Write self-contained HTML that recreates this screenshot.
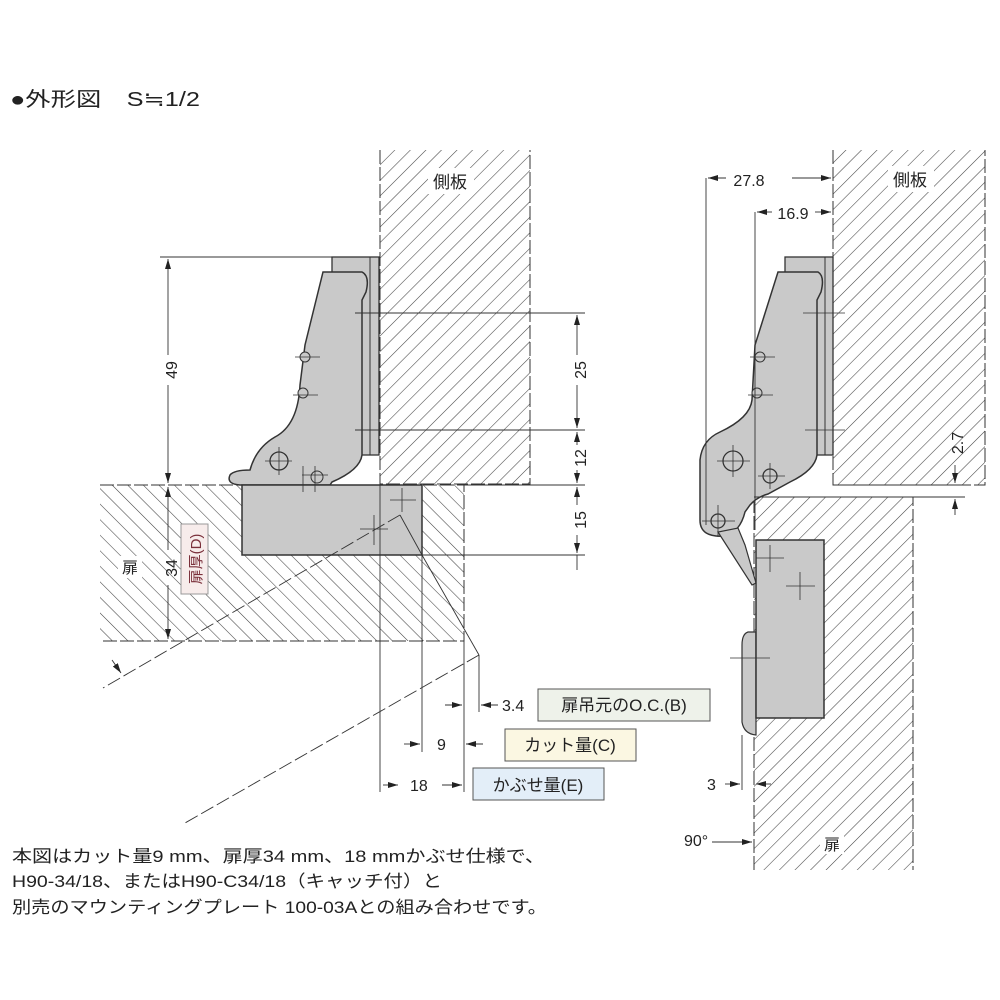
<!DOCTYPE html>
<html><head><meta charset="utf-8"><style>
html,body{margin:0;padding:0;background:#fff;}
svg{display:block;}
text{font-family:"Liberation Sans","Noto Sans CJK JP",sans-serif;fill:#222;}
</style></head><body>
<svg width="1000" height="1000" viewBox="0 0 1000 1000" xmlns="http://www.w3.org/2000/svg">
<defs>
<pattern id="hf" width="11" height="11" patternUnits="userSpaceOnUse" patternTransform="rotate(45)">
<line x1="0" y1="0" x2="0" y2="11" stroke="#444" stroke-width="1.1"/></pattern>
<pattern id="hb" width="11" height="11" patternUnits="userSpaceOnUse" patternTransform="rotate(-45)">
<line x1="0" y1="0" x2="0" y2="11" stroke="#444" stroke-width="1.1"/></pattern>
<marker id="a" markerWidth="10" markerHeight="6" refX="10" refY="3" orient="auto" markerUnits="userSpaceOnUse"><path d="M0,0 L10,3 L0,6z" fill="#222"/></marker>
</defs>

<text x="10" y="106" font-size="20" textLength="190" lengthAdjust="spacingAndGlyphs">●外形図　S≒1/2</text>

<!-- LEFT DRAWING -->
<rect x="380" y="150" width="150" height="334" fill="url(#hf)"/>
<path d="M380,150 V484 H530 V150" fill="none" stroke="#333" stroke-width="1" stroke-dasharray="14,3"/>
<rect x="100" y="485" width="364" height="156" fill="url(#hb)"/>
<path d="M100,485 H464 V641 H100" fill="none" stroke="#333" stroke-width="1" stroke-dasharray="14,3"/>
<rect x="428" y="168" width="46" height="26" fill="#fff"/>
<text x="433" y="188" font-size="17">側板</text>
<rect x="118" y="556" width="24" height="22" fill="#fff"/>
<text x="122" y="573" font-size="16">扉</text>

<!-- mount plate & arm -->
<rect x="332" y="257" width="47" height="198" fill="#c9c9c9" stroke="#333" stroke-width="1.3"/>
<line x1="370" y1="257" x2="370" y2="455" stroke="#333"/>
<path d="M323,272 L362,272 Q370,276 366,292 L362,300 L362,455 Q360,470 332,482 L330,485 L240,485 Q226,484 230,475 Q234,470 250,470 Q256,448 275,437 Q298,425 300,385 L305,345 Z" fill="#c9c9c9" stroke="#333" stroke-width="1.5"/>
<circle cx="279" cy="461" r="9" fill="#c9c9c9" stroke="#333" stroke-width="1.3"/>
<circle cx="317" cy="477" r="6" fill="#c9c9c9" stroke="#333"/>
<circle cx="305" cy="357" r="5" fill="#c9c9c9" stroke="#333"/>
<circle cx="303" cy="393" r="5" fill="#c9c9c9" stroke="#333"/>
<rect x="242" y="485" width="180" height="70" fill="#c9c9c9" stroke="#333" stroke-width="1.5"/>
<g stroke="#333" stroke-width="0.8">
<line x1="295" y1="357" x2="320" y2="357"/><line x1="293" y1="395" x2="318" y2="395"/>
<line x1="265" y1="461" x2="292" y2="461"/><line x1="279" y1="447" x2="279" y2="475"/>
<line x1="303" y1="466" x2="303" y2="492"/><line x1="315" y1="466" x2="315" y2="492"/><line x1="302" y1="475" x2="328" y2="475"/>
<line x1="390" y1="500" x2="416" y2="500"/><line x1="402" y1="488" x2="402" y2="512"/>
<line x1="360" y1="529" x2="388" y2="529"/><line x1="374" y1="515" x2="374" y2="545"/>
</g>

<!-- left dims -->
<g stroke="#333" stroke-width="0.9" fill="none">
<line x1="160" y1="257" x2="380" y2="257"/>
<line x1="355" y1="313" x2="585" y2="313"/>
<line x1="355" y1="430" x2="585" y2="430"/>
<line x1="464" y1="485" x2="585" y2="485"/>
<line x1="422" y1="555" x2="585" y2="555"/>
<line x1="168" y1="355" x2="168" y2="259" marker-end="url(#a)"/>
<line x1="168" y1="385" x2="168" y2="483" marker-end="url(#a)"/>
<line x1="168" y1="550" x2="168" y2="487" marker-end="url(#a)"/>
<line x1="168" y1="585" x2="168" y2="639" marker-end="url(#a)"/>
<line x1="577" y1="355" x2="577" y2="315" marker-end="url(#a)"/>
<line x1="577" y1="385" x2="577" y2="428" marker-end="url(#a)"/>
<line x1="577" y1="445" x2="577" y2="432" marker-end="url(#a)"/>
<line x1="577" y1="470" x2="577" y2="483" marker-end="url(#a)"/>
<line x1="577" y1="505" x2="577" y2="487" marker-end="url(#a)"/>
<line x1="577" y1="535" x2="577" y2="553" marker-end="url(#a)"/>
<line x1="577" y1="555" x2="577" y2="570"/>
<line x1="380" y1="485" x2="380" y2="792"/>
<line x1="422" y1="555" x2="422" y2="752"/>
<line x1="464" y1="641" x2="464" y2="792"/>
<line x1="479" y1="655" x2="479" y2="712"/>
<line x1="400" y1="515" x2="422" y2="555"/>
<line x1="422" y1="555" x2="479" y2="655"/>
<line x1="400" y1="515" x2="103" y2="688" stroke-dasharray="14,4"/>
<line x1="479" y1="655" x2="185" y2="823" stroke-dasharray="14,4"/>
<line x1="112" y1="660" x2="121" y2="673" marker-end="url(#a)"/>
<line x1="445" y1="705" x2="462" y2="705" marker-end="url(#a)"/>
<line x1="498" y1="705" x2="481" y2="705" marker-end="url(#a)"/>
<line x1="404" y1="744" x2="420" y2="744" marker-end="url(#a)"/>
<line x1="483" y1="744" x2="466" y2="744" marker-end="url(#a)"/>
<line x1="383" y1="785" x2="398" y2="785" marker-end="url(#a)"/>
<line x1="442" y1="785" x2="462" y2="785" marker-end="url(#a)"/>
</g>
<text transform="translate(177,370) rotate(-90)" font-size="16" text-anchor="middle">49</text>
<text transform="translate(177,568) rotate(-90)" font-size="16" text-anchor="middle">34</text>
<text transform="translate(586,370) rotate(-90)" font-size="16" text-anchor="middle">25</text>
<text transform="translate(586,458) rotate(-90)" font-size="16" text-anchor="middle">12</text>
<text transform="translate(586,520) rotate(-90)" font-size="16" text-anchor="middle">15</text>
<rect x="181" y="524" width="27" height="70" fill="#f7eceb" stroke="#999"/>
<text transform="translate(201,559) rotate(-90)" font-size="15" text-anchor="middle" style="fill:#7a2f3a">扉厚(D)</text>
<text x="502" y="711" font-size="16">3.4</text>
<text x="437" y="750" font-size="16">9</text>
<text x="410" y="791" font-size="16">18</text>
<rect x="538" y="689" width="172" height="32" fill="#eef2ea" stroke="#555"/>
<text x="624" y="711" font-size="17" text-anchor="middle">扉吊元のO.C.(B)</text>
<rect x="505" y="729" width="131" height="32" fill="#fbf7e2" stroke="#555"/>
<text x="570" y="751" font-size="17" text-anchor="middle">カット量(C)</text>
<rect x="473" y="768" width="131" height="32" fill="#e3eef8" stroke="#555"/>
<text x="538" y="791" font-size="17" text-anchor="middle">かぶせ量(E)</text>

<!-- RIGHT DRAWING -->
<rect x="833" y="150" width="152" height="335" fill="url(#hf)"/>
<path d="M833,150 V485 H985 V150" fill="none" stroke="#333" stroke-dasharray="14,3"/>
<rect x="754" y="497" width="159" height="373" fill="url(#hf)"/>
<path d="M754,870 V497 H913 V870" fill="none" stroke="#333" stroke-dasharray="14,3"/>
<rect x="888" y="166" width="46" height="26" fill="#fff"/>
<text x="893" y="186" font-size="17">側板</text>
<rect x="820" y="832" width="24" height="22" fill="#fff"/>
<text x="824" y="850" font-size="16">扉</text>

<rect x="785" y="257" width="48" height="198" fill="#c9c9c9" stroke="#333" stroke-width="1.3"/>
<line x1="825" y1="257" x2="825" y2="455" stroke="#333"/>
<path d="M778,272 L818,272 Q825,276 821,292 L817,300 L817,455 Q815,470 790,482 L768,494 Q757,497 750,505 L745,512 Q740,532 725,536 Q700,538 700,520 L700,460 Q702,440 720,432 Q750,418 752,400 L755,345 Z" fill="#c9c9c9" stroke="#333" stroke-width="1.5"/>
<path d="M718,532 L752,585 L756,583 L745,545 L738,528 Z" fill="#c9c9c9" stroke="#333" stroke-width="1.2"/>
<circle cx="733" cy="461" r="10" fill="#c9c9c9" stroke="#333" stroke-width="1.3"/>
<circle cx="770" cy="476" r="7" fill="#c9c9c9" stroke="#333" stroke-width="1.3"/>
<circle cx="718" cy="521" r="7" fill="#c9c9c9" stroke="#333" stroke-width="1.3"/>
<circle cx="760" cy="357" r="5" fill="#c9c9c9" stroke="#333"/>
<circle cx="757" cy="393" r="5" fill="#c9c9c9" stroke="#333"/>
<path d="M756,632 L748,632 Q742,634 742,645 L742,722 Q744,734 756,735 Z" fill="#c9c9c9" stroke="#333" stroke-width="1.2"/>
<rect x="756" y="540" width="68" height="178" fill="#c9c9c9" stroke="#333" stroke-width="1.5"/>
<g stroke="#333" stroke-width="0.8">
<line x1="803" y1="313" x2="845" y2="313"/><line x1="805" y1="430" x2="845" y2="430"/>
<line x1="750" y1="357" x2="775" y2="357"/><line x1="748" y1="395" x2="773" y2="395"/>
<line x1="717" y1="461" x2="750" y2="461"/><line x1="733" y1="445" x2="733" y2="477"/>
<line x1="758" y1="476" x2="785" y2="476"/><line x1="770" y1="463" x2="770" y2="489"/>
<line x1="702" y1="521" x2="735" y2="521"/><line x1="718" y1="505" x2="718" y2="537"/>
<line x1="756" y1="558" x2="784" y2="558"/><line x1="770" y1="545" x2="770" y2="572"/>
<line x1="786" y1="586" x2="815" y2="586"/><line x1="800" y1="572" x2="800" y2="600"/>
<line x1="730" y1="658" x2="770" y2="658"/>
</g>
<g stroke="#333" stroke-width="0.9" fill="none">
<line x1="706" y1="178" x2="706" y2="525"/>
<line x1="755" y1="212" x2="755" y2="530"/>
<line x1="726" y1="178" x2="708" y2="178" marker-end="url(#a)"/>
<line x1="792" y1="178" x2="831" y2="178" marker-end="url(#a)"/>
<line x1="772" y1="212" x2="757" y2="212" marker-end="url(#a)"/>
<line x1="815" y1="212" x2="831" y2="212" marker-end="url(#a)"/>
<line x1="754" y1="497" x2="965" y2="497"/>
<line x1="833" y1="485" x2="965" y2="485"/>
<line x1="955" y1="465" x2="955" y2="483" marker-end="url(#a)"/>
<line x1="955" y1="515" x2="955" y2="499" marker-end="url(#a)"/>
<line x1="742" y1="735" x2="742" y2="790"/>
<line x1="725" y1="784" x2="740" y2="784" marker-end="url(#a)"/>
<line x1="771" y1="784" x2="756" y2="784" marker-end="url(#a)"/>
<line x1="712" y1="842" x2="752" y2="842" marker-end="url(#a)"/>
</g>
<text x="749" y="186" font-size="16" text-anchor="middle">27.8</text>
<text x="793" y="219" font-size="16" text-anchor="middle">16.9</text>
<text transform="translate(963,443) rotate(-90)" font-size="16" text-anchor="middle">2.7</text>
<text x="707" y="790" font-size="16">3</text>
<text x="684" y="846" font-size="16">90°</text>

<text x="12" y="862" font-size="17" textLength="533" lengthAdjust="spacingAndGlyphs">本図はカット量9 mm、扉厚34 mm、18 mmかぶせ仕様で、</text>
<text x="12" y="887" font-size="17" textLength="430" lengthAdjust="spacingAndGlyphs">H90-34/18、またはH90-C34/18（キャッチ付）と</text>
<text x="12" y="913" font-size="17" textLength="535" lengthAdjust="spacingAndGlyphs">別売のマウンティングプレート 100-03Aとの組み合わせです。</text>
</svg>
</body></html>
